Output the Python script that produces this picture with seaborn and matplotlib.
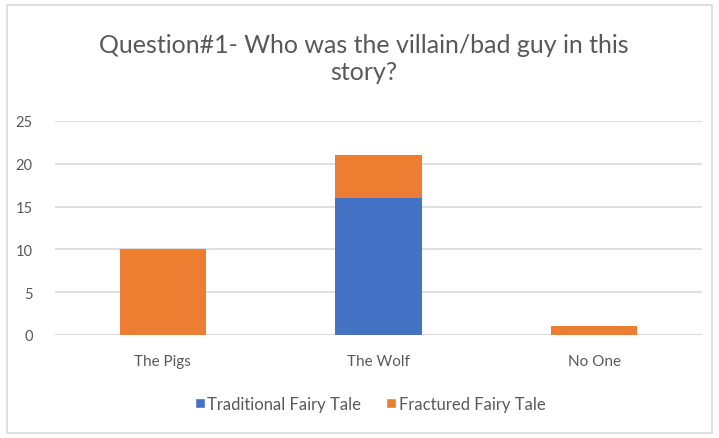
import matplotlib
matplotlib.use("Agg")
import matplotlib.pyplot as plt
from matplotlib.patches import Patch, Rectangle
import seaborn as sns
import pandas as pd

categories = ["The Pigs", "The Wolf", "No One"]
traditional = [0, 16, 0]
fractured = [10, 5, 1]
series_names = ["Traditional Fairy Tale", "Fractured Fairy Tale"]
yticks = [0, 5, 10, 15, 20, 25]
title = "Question#1- Who was the villain/bad guy in this\nstory?"

BLUE = "#4472C4"
ORANGE = "#ED7D31"
GRID = "#D9D9D9"
TEXT = "#595959"

sns.set_theme(style="white")
plt.rcParams["font.family"] = ["Lato", "DejaVu Sans"]

df = pd.DataFrame({
    "category": categories,
    "traditional": traditional,
    "total": [t + f for t, f in zip(traditional, fractured)],
})

fig = plt.figure(figsize=(7.19, 4.39), dpi=100)
ax = fig.add_axes([55 / 719, 1 - 336 / 439, (702 - 55) / 719, (336 - 122) / 439])

# stacked columns: full height in orange, traditional part drawn over it in blue
sns.barplot(data=df, x="category", y="total", color=ORANGE, width=0.4,
            saturation=1, linewidth=0, ax=ax, zorder=2)
sns.barplot(data=df, x="category", y="traditional", color=BLUE, width=0.4,
            saturation=1, linewidth=0, ax=ax, zorder=3)

ax.set_ylim(0, 25)
ax.set_yticks(yticks)
ax.set_yticklabels([str(v) for v in yticks])
ax.set_xlim(-0.5, 2.5)
ax.yaxis.grid(True, color=GRID, linewidth=1.2, zorder=0)
ax.set_axisbelow(True)
for s in ax.spines.values():
    s.set_visible(False)
ax.axhline(0, color=GRID, linewidth=1.2, zorder=1)
ax.set_xlabel("")
ax.set_ylabel("")
ax.tick_params(axis="y", length=0, pad=16, labelsize=10.5, labelcolor=TEXT)
ax.tick_params(axis="x", length=0, pad=14, labelsize=11, labelcolor=TEXT)

fig.text(0.506, 1 - 59 / 439, title, ha="center", va="center",
         fontsize=18, color=TEXT, linespacing=1.2)

handles = [Patch(facecolor=BLUE, label=series_names[0]),
           Patch(facecolor=ORANGE, label=series_names[1])]
fig.legend(handles=handles, loc="center", bbox_to_anchor=(370 / 719, 1 - 405 / 439),
           ncol=2, frameon=False, fontsize=12, labelcolor=TEXT,
           handlelength=0.6, handleheight=0.6, handletextpad=0.15, columnspacing=1.5)

# chart border
fig.patches.append(Rectangle((7 / 719, 5 / 439), 705 / 719, 428 / 439,
                             transform=fig.transFigure, fill=False,
                             edgecolor=GRID, linewidth=1.2))

fig.savefig("out.png", dpi=100, facecolor="white")
